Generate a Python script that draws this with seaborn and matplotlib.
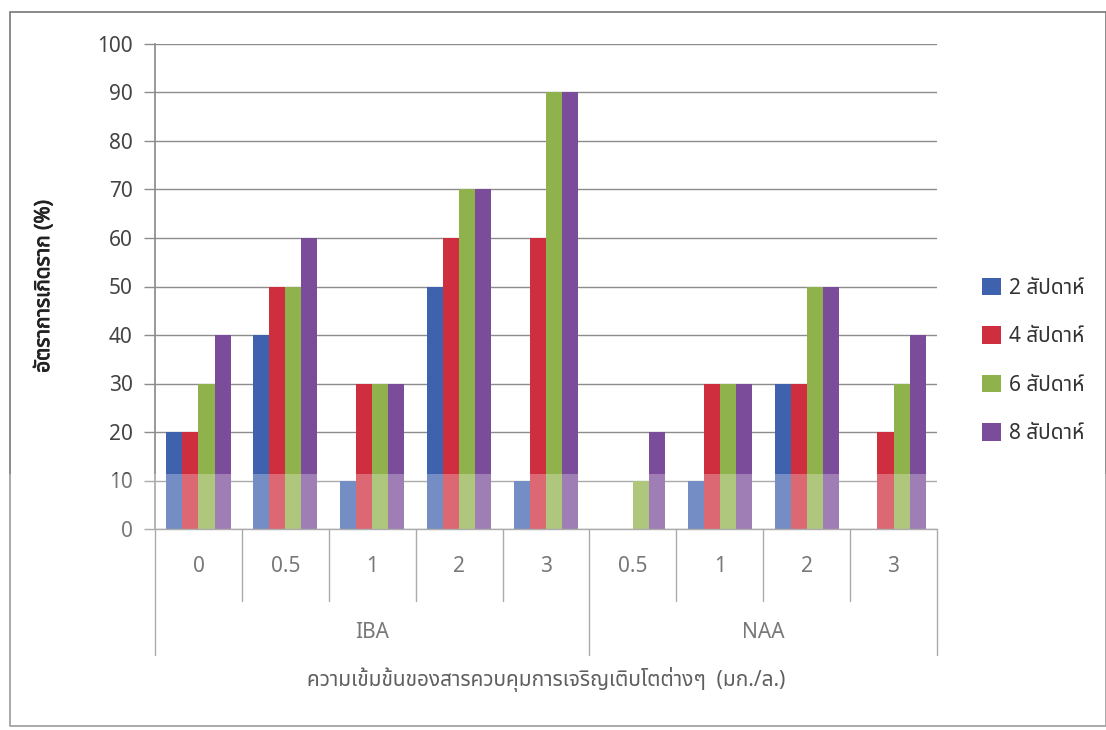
import numpy as np
import pandas as pd
import matplotlib
matplotlib.use("Agg")
import matplotlib.pyplot as plt
from matplotlib import font_manager
from matplotlib import patheffects
from matplotlib.patches import Rectangle
from matplotlib.transforms import blended_transform_factory
import seaborn as sns

# Rooting rate (%) by growth regulator concentration and week
groups = ["IBA"] * 5 + ["NAA"] * 4
concentrations = ["0", "0.5", "1", "2", "3", "0.5", "1", "2", "3"]
weeks = ["2 สัปดาห์", "4 สัปดาห์", "6 สัปดาห์", "8 สัปดาห์"]
week2 = [20, 40, 10, 50, 10, 0, 10, 30, 0]
week4 = [20, 50, 30, 60, 60, 0, 30, 30, 20]
week6 = [30, 50, 30, 70, 90, 10, 30, 50, 30]
week8 = [40, 60, 30, 70, 90, 20, 30, 50, 40]
y_ticks = [0, 10, 20, 30, 40, 50, 60, 70, 80, 90, 100]

colors = ["#3F62AE", "#CF2E3E", "#8FB24C", "#7B4C99"]

sns.set_theme(style="white")


def find_thai_font():
    from matplotlib.ft2font import FT2Font
    preferred = ["Noto Sans Thai", "Noto Sans Thai UI", "Noto Sans", "Loma",
                 "Garuda", "Tlwg Typo", "Sarabun"]
    found = []
    for f in font_manager.fontManager.ttflist:
        try:
            cmap = FT2Font(f.fname).get_charmap()
        except Exception:
            continue
        if 0x0E2A in cmap and 0x0E31 in cmap:
            found.append(f.name)
    for p in preferred:
        if p in found:
            return p
    return found[0] if found else None


thai = find_thai_font()
families = ([thai] if thai else []) + ["DejaVu Sans"]
plt.rcParams["font.family"] = families

cat_labels = [f"{g}\n{c}" for g, c in zip(groups, concentrations)]
df = pd.DataFrame({
    "cat": np.repeat(cat_labels, 4),
    "week": weeks * len(cat_labels),
    "value": np.column_stack([week2, week4, week6, week8]).ravel(),
})

fig = plt.figure(figsize=(11.06, 7.30), dpi=100)
ax = fig.add_axes([155 / 1106, 1 - 529 / 730, (937 - 155) / 1106, (529 - 44) / 730])

sns.barplot(data=df, x="cat", y="value", hue="week", order=cat_labels,
            hue_order=weeks, palette=colors, width=0.74, saturation=1,
            linewidth=0, ax=ax, legend=True)

ax.set_ylim(0, 100)
ax.set_xlim(-0.5, len(cat_labels) - 0.5)
ax.set_yticks(y_ticks)
ax.yaxis.grid(True, color="#8c8c8c", linewidth=1.0)
ax.set_axisbelow(True)
for side in ["top", "right", "bottom"]:
    ax.spines[side].set_visible(False)
ax.spines["left"].set_color("#8c8c8c")
ax.tick_params(axis="y", which="both", left=True, length=8, width=1,
               color="#8c8c8c", labelsize=15, labelcolor="#444444", pad=8)
ax.set_xticks([])
ax.set_xlabel("")
ylab = ax.set_ylabel("อัตราการเกิดราก (%)", fontsize=15, fontweight="bold",
                     color="#222222", labelpad=31)
ylab.set_path_effects([patheffects.withStroke(linewidth=0.6, foreground="#222222")])

# Two-level category axis: concentration row, then regulator row
trans = blended_transform_factory(ax.transData, ax.transAxes)
px = 1 / (529 - 44)
ax.plot([-0.5, len(cat_labels) - 0.5], [0, 0], transform=trans,
        color="#8c8c8c", lw=1, clip_on=False)
group_edges = [-0.5, 4.5, 8.5]
for i in range(len(cat_labels) + 1):
    xb = i - 0.5
    depth = 126 if xb in group_edges else 72
    ax.plot([xb, xb], [0, -depth * px], transform=trans,
            color="#8c8c8c", lw=1, clip_on=False)
for i, c in enumerate(concentrations):
    ax.text(i, -37 * px, c, transform=trans, ha="center", va="center",
            fontsize=15, color="#444444")
ax.text(2, -103 * px, "IBA", transform=trans, ha="center", va="center",
        fontsize=15, color="#444444")
ax.text(6.5, -103 * px, "NAA", transform=trans, ha="center", va="center",
        fontsize=15, color="#444444")
ax.text(4, -151 * px, "ความเข้มข้นของสารควบคุมการเจริญเติบโตต่างๆ  (มก./ล.)",
        transform=trans, ha="center", va="center", fontsize=15,
        color="#222222")

# Legend on the right
handles, labels = ax.get_legend_handles_labels()
leg = ax.legend(handles, labels, loc="center left",
                bbox_to_anchor=(963 / 1106, 1 - 361 / 730),
                bbox_transform=fig.transFigure, frameon=False,
                fontsize=15, labelspacing=1.32, handlelength=0.9,
                handleheight=0.9, handletextpad=0.4, labelcolor="#333333")

# Frame around the figure
fig.add_artist(Rectangle((10 / 1106, 1 - 726 / 730), (1106 - 10) / 1106,
                         (726 - 12) / 730, transform=fig.transFigure,
                         fill=False, edgecolor="#777777", lw=1.2))

# Faded lower band of the scanned page
fig.add_artist(Rectangle((0, 0), 1, 1 - 474 / 730, transform=fig.transFigure,
                         facecolor="white", alpha=0.28, edgecolor="none",
                         zorder=10))

fig.savefig("out.png", dpi=100)
